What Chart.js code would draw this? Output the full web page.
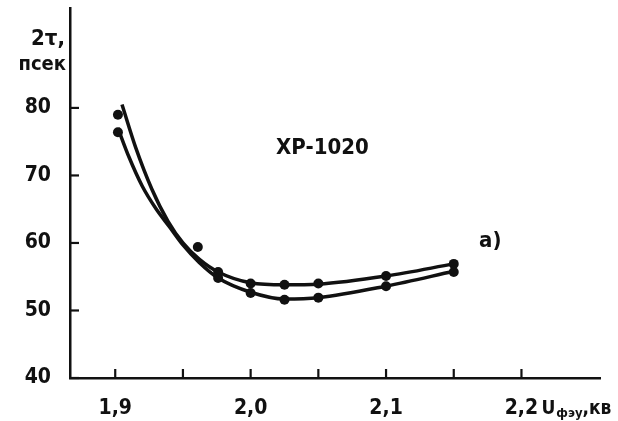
<!DOCTYPE html>
<html>
<head>
<meta charset="utf-8">
<script src="https://cdn.jsdelivr.net/npm/chart.js@4.4.1/dist/chart.umd.min.js"></script>
<style>
  html, body { margin: 0; padding: 0; background: #fff; }
  canvas { display: block; }
</style>
</head>
<body>
<canvas id="chartXP" width="618" height="421"></canvas>
<script>
// Points mesurés (deux séries) et courbes lissées tracées à la main
const upperDotX = [1.902, 1.961, 1.976, 2.0, 2.025, 2.05, 2.1, 2.15];
const upperDotY = [79.0, 59.4, 55.7, 54.0, 53.8, 54.0, 55.1, 56.9];
const lowerDotX = [1.902, 1.976, 2.0, 2.025, 2.05, 2.1, 2.15];
const lowerDotY = [76.4, 54.8, 52.6, 51.6, 51.9, 53.6, 55.7];

const upperCurveX = [1.905, 1.915, 1.927, 1.939, 1.950, 1.962, 1.976, 2.0, 2.025, 2.05, 2.1, 2.15];
const upperCurveY = [80.5, 74.2, 68.0, 63.2, 60.0, 57.6, 55.7, 54.1, 53.8, 53.9, 55.1, 56.9];
const lowerCurveX = [1.902, 1.910, 1.920, 1.930, 1.940, 1.950, 1.962, 1.976, 2.0, 2.025, 2.05, 2.1, 2.15];
const lowerCurveY = [77.0, 72.8, 68.4, 65.1, 62.4, 59.7, 57.1, 54.8, 52.7, 51.7, 51.9, 53.6, 55.8];

const yTicks = [40, 50, 60, 70, 80];
const xTicks = [1.9, 1.95, 2.0, 2.05, 2.1, 2.15, 2.2];
const xLabels = ['1,9', '', '2,0', '', '2,1', '', '2,2'];

const FONT = '"DejaVu Sans Condensed", "DejaVu Sans", sans-serif';
const INK = '#111';

function pts(xs, ys) {
    return xs.map((v, i) => ({ x: v, y: ys[i] }));
}

// petits traits vers l'intérieur + textes
const decorations = {
    id: 'decorations',
    afterDraw(chart) {
        const { ctx, chartArea, scales: { x, y } } = chart;
        ctx.save();
        ctx.strokeStyle = INK;
        ctx.lineWidth = 2.2;
        yTicks.forEach(v => {
            const py = y.getPixelForValue(v);
            ctx.beginPath();
            ctx.moveTo(chartArea.left, py);
            ctx.lineTo(chartArea.left + 9, py);
            ctx.stroke();
        });
        xTicks.forEach(v => {
            const px = x.getPixelForValue(v);
            ctx.beginPath();
            ctx.moveTo(px, chartArea.bottom);
            ctx.lineTo(px, chartArea.bottom - 9);
            ctx.stroke();
        });

        ctx.fillStyle = INK;
        ctx.textBaseline = 'alphabetic';
        ctx.textAlign = 'right';
        ctx.font = 'bold 22px ' + FONT;
        ctx.fillText('2τ,', chartArea.left - 5, 45);
        ctx.font = 'bold 20px ' + FONT;
        ctx.fillText('псек', chartArea.left - 4, 70);

        ctx.textAlign = 'center';
        ctx.font = 'bold 22px ' + FONT;
        ctx.fillText('XP-1020', x.getPixelForValue(2.053), y.getPixelForValue(73.2));
        ctx.fillText('а)', x.getPixelForValue(2.177), y.getPixelForValue(59.4));

        // Uфэу,кв après la graduation 2,2
        ctx.textAlign = 'left';
        let cx = x.getPixelForValue(2.2) + 20;
        const base = 414;
        ctx.font = 'bold 19px ' + FONT;
        ctx.fillText('U', cx, base);
        cx += ctx.measureText('U').width + 1;
        ctx.font = 'bold 13px ' + FONT;
        ctx.fillText('фэу', cx, base + 3);
        cx += ctx.measureText('фэу').width;
        ctx.font = 'bold 19px ' + FONT;
        ctx.fillText(',кв', cx, base);
        ctx.restore();
    }
};

const ctx = document.getElementById('chartXP').getContext('2d');

const curveStyle = {
    showLine: true,
    borderColor: INK,
    borderWidth: 3.5,
    pointRadius: 0,
    cubicInterpolationMode: 'monotone',
    fill: false
};
const dotStyle = {
    showLine: false,
    pointRadius: 5,
    pointBackgroundColor: INK,
    pointBorderColor: INK,
    pointBorderWidth: 0
};

const chart = new Chart(ctx, {
    type: 'scatter',
    data: {
        datasets: [
            { label: 'courbe haute', data: pts(upperCurveX, upperCurveY), ...curveStyle },
            { label: 'courbe basse', data: pts(lowerCurveX, lowerCurveY), ...curveStyle },
            { label: 'points haut', data: pts(upperDotX, upperDotY), ...dotStyle },
            { label: 'points bas', data: pts(lowerDotX, lowerDotY), ...dotStyle }
        ]
    },
    options: {
        responsive: false,
        animation: false,
        layout: { padding: { left: 0, right: 18, top: 8, bottom: 0 } },
        plugins: {
            legend: { display: false },
            tooltip: { enabled: false }
        },
        scales: {
            x: {
                type: 'linear',
                min: 1.8666,
                max: 2.258,
                grid: { display: false },
                border: { display: true, color: INK, width: 2.5 },
                afterBuildTicks: scale => { scale.ticks = xTicks.map(v => ({ value: v })); },
                afterFit: scale => {
                    scale.height = 43;
                    scale.paddingLeft = 0;
                    scale.paddingRight = 0;
                },
                ticks: {
                    color: INK,
                    font: { family: FONT, size: 21, weight: 'bold' },
                    padding: 10,
                    maxRotation: 0,
                    autoSkip: false,
                    callback: function (value, i) {
                        return xLabels[i];
                    }
                }
            },
            y: {
                type: 'linear',
                min: 40,
                max: 94.8,
                grid: { display: false },
                border: { display: true, color: INK, width: 2.5 },
                afterBuildTicks: scale => { scale.ticks = yTicks.map(v => ({ value: v })); },
                afterFit: scale => {
                    scale.width = 70;
                    scale.paddingTop = 0;
                    scale.paddingBottom = 0;
                },
                ticks: {
                    color: INK,
                    font: { family: FONT, size: 21, weight: 'bold' },
                    padding: 11,
                    callback: value => String(value)
                }
            }
        }
    },
    plugins: [decorations]
});
</script>
</body>
</html>
